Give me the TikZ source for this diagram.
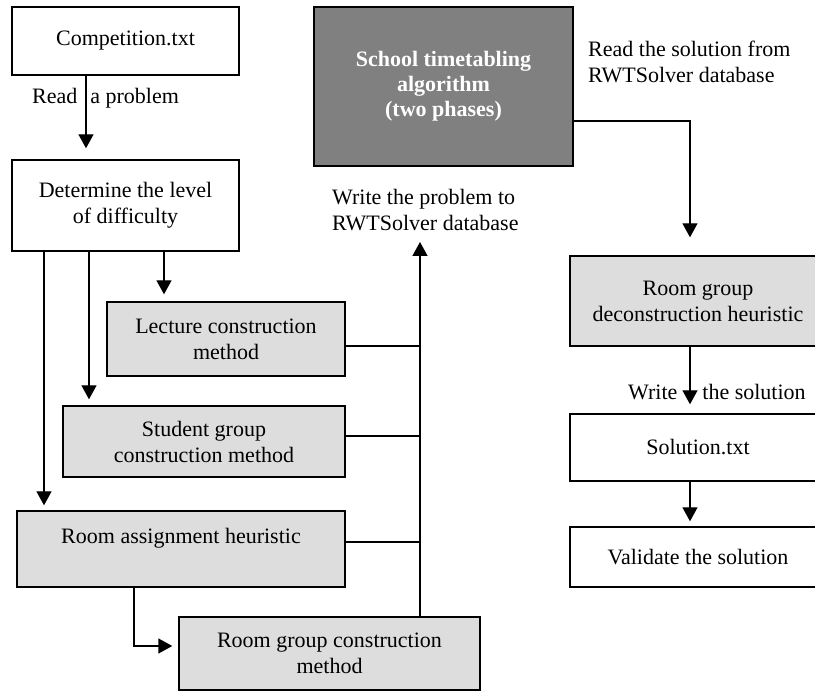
\documentclass[tikz,border=0pt]{standalone}
\usepackage{fontspec}
\setmainfont{Liberation Serif}
\usetikzlibrary{arrows.meta,calc}
\definecolor{lightfill}{HTML}{DDDDDD}
\definecolor{darkfill}{HTML}{808080}
\begin{document}
\begin{tikzpicture}[x=1pt,y=-1pt,
  txt/.style={font=\fontsize{22}{26}\selectfont},
  box/.style={txt,draw=black,line width=1.4pt,inner sep=0pt,align=center},
  lbox/.style={box,fill=lightfill},
  dbox/.style={box,fill=darkfill,text=white,font=\fontsize{22}{25}\selectfont\bfseries},
  lab/.style={txt,inner sep=0pt,align=left,anchor=west},
  arr/.style={line width=1.4pt,-{Triangle[length=14pt,width=15pt]}},
  ln/.style={line width=1.4pt}
]
\useasboundingbox (0,0) rectangle (815,692);
\clip (0,0) rectangle (815,692);

% left column
\node[box,minimum width=227pt,minimum height=68pt] (comp) at (125.5,41) {Competition.txt};
\node[box,minimum width=227pt,minimum height=91pt] (det) at (125.5,205.5) {Determine the level\\of difficulty};
\node[lbox,minimum width=238pt,minimum height=74pt] (lec) at (226,339) {Lecture construction\\method};
\node[lbox,minimum width=282pt,minimum height=71pt] (stu) at (204,441.5) {Student group\\construction method};
\node[lbox,minimum width=328pt,minimum height=76pt] (ras) at (181,549) {Room assignment heuristic\\~};
\node[lbox,minimum width=301pt,minimum height=73pt] (rgc) at (329.5,653.5) {Room group construction\\method};

% central
\node[dbox,minimum width=259pt,minimum height=159pt] (school) at (443.5,86.5) {School timetabling\\algorithm\\(two phases)};

% right column
\node[lbox,minimum width=256pt,minimum height=90pt] (rgd) at (698,301) {Room group\\deconstruction heuristic};
\node[box,minimum width=256pt,minimum height=67pt] (sol) at (698,447.5) {Solution.txt};
\node[box,minimum width=256pt,minimum height=60pt] (val) at (698,557) {Validate the solution};

% labels
\node[lab] (readlab) at (32,98) {Read\hspace{13pt}a problem};
\node[lab] (wlab) at (332,210) {Write the problem to\\RWTSolver database};
\node[lab] (rlab) at (588,61.5) {Read the solution from\\RWTSolver database};
\node[lab] (wslab) at (628,392) {Write\hspace{25pt}the solution};

\coordinate (wtip) at (420,242);

% connectors
\draw[arr,shorten >=11pt] ([xshift=-39.5pt]comp.south) -- ([xshift=-39.5pt]comp.south |- det.north);
\draw[arr,shorten >=7pt] ([xshift=38.5pt]det.south) -- ([xshift=38.5pt]det.south |- lec.north);
\draw[arr,shorten >=6pt] ([xshift=-36.5pt]det.south) -- ([xshift=-36.5pt]det.south |- stu.north);
\draw[arr,shorten >=5pt] ([xshift=-81.5pt]det.south) -- ([xshift=-81.5pt]det.south |- ras.north);

\draw[arr] (rgc.north -| wtip) -- (wtip);
\draw[ln] ([yshift=-7pt]lec.east) -- ([yshift=-7pt]lec.east -| wtip);
\draw[ln] ([yshift=5.5pt]stu.east) -- ([yshift=5.5pt]stu.east -| wtip);
\draw[ln] ([yshift=7pt]ras.east) -- ([yshift=7pt]ras.east -| wtip);

\draw[arr,shorten >=6pt] ([xshift=-47pt]ras.south) |- ([yshift=7.5pt]rgc.west);

\draw[arr,shorten >=18pt] ([yshift=-34.5pt]school.east) -| ([xshift=-8pt]rgd.north);
\draw[arr,shorten >=9pt] ([xshift=-8pt]rgd.south) -- ([xshift=-8pt]sol.north);
\draw[arr,shorten >=5pt] ([xshift=-8pt]sol.south) -- ([xshift=-8pt]val.north);
\end{tikzpicture}
\end{document}
